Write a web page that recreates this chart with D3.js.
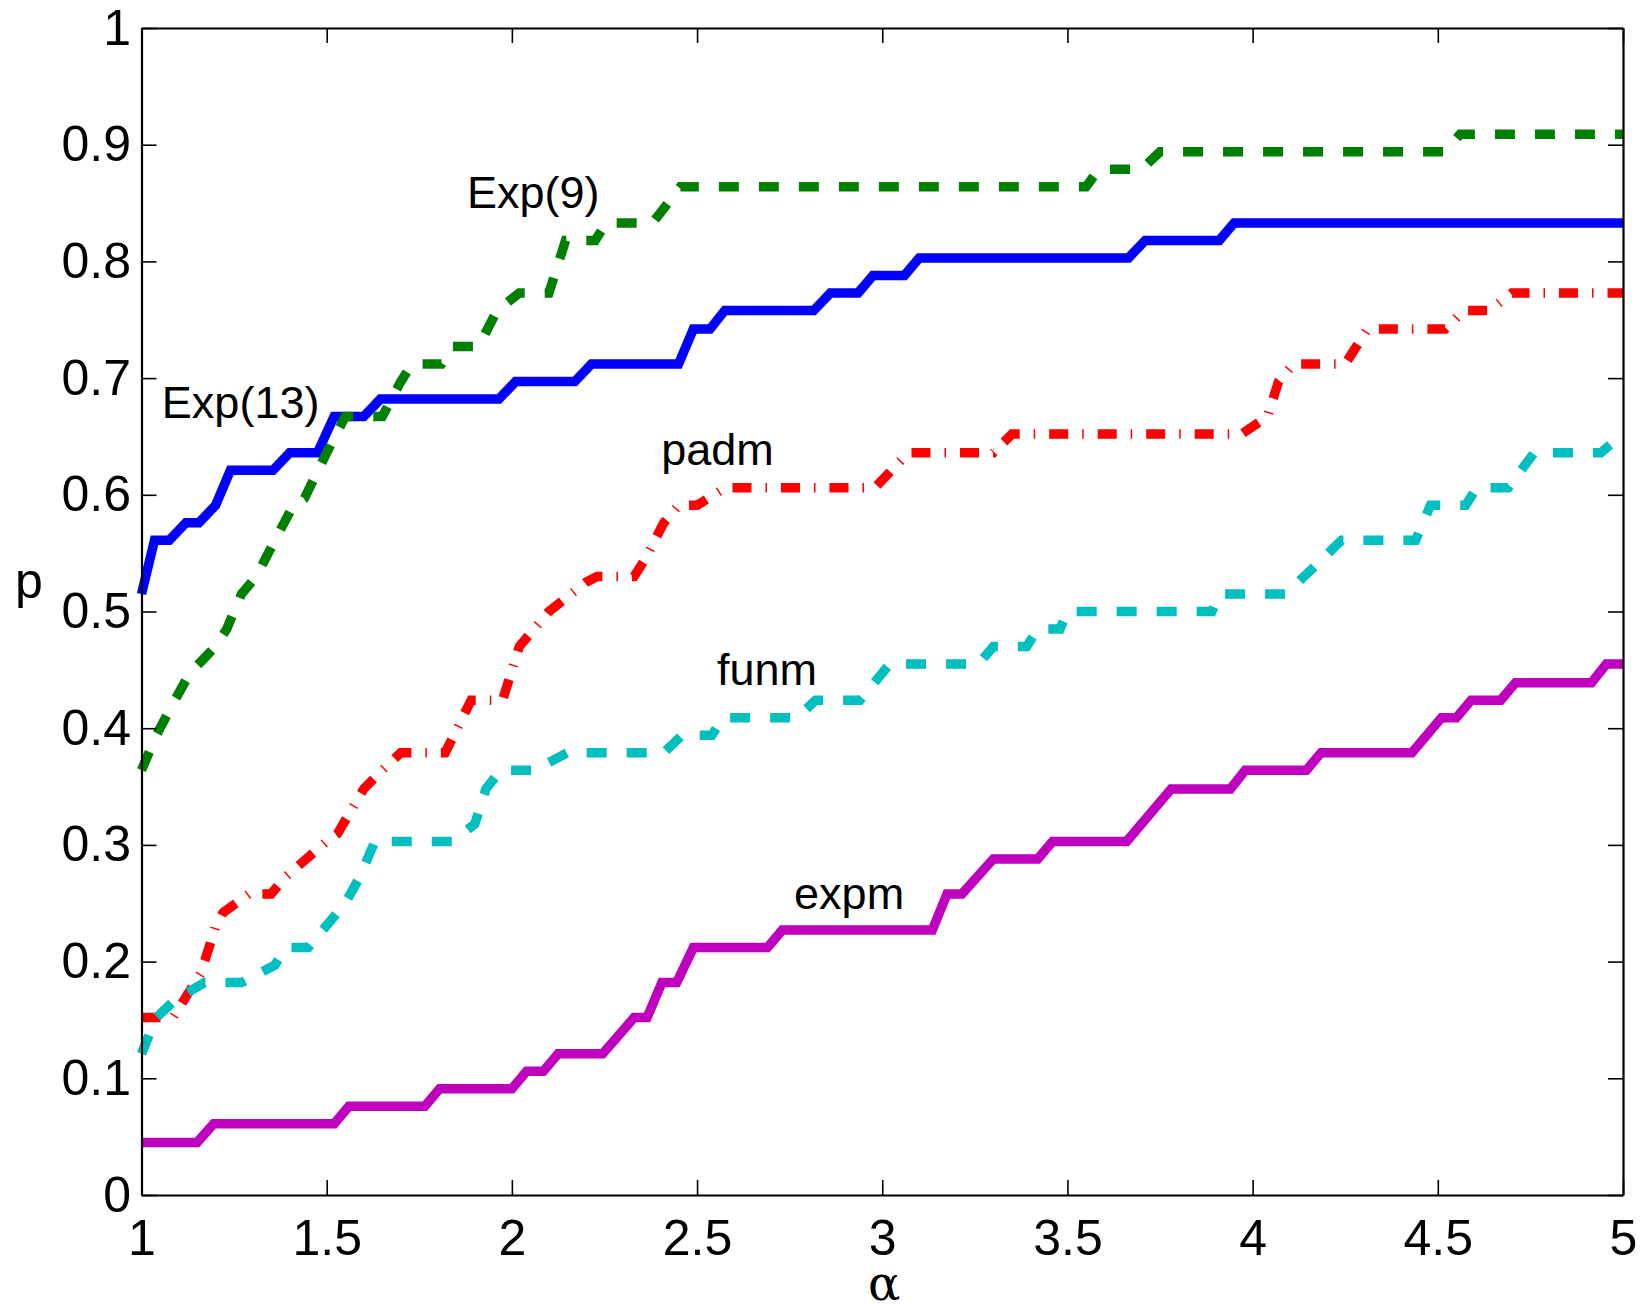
<!DOCTYPE html>
<html>
<head>
<meta charset="utf-8">
<script src="https://cdn.jsdelivr.net/npm/d3@7"></script>
<style>
  html, body { margin: 0; padding: 0; background: #ffffff; }
  svg { display: block; }
</style>
</head>
<body>
<svg id="chart" width="1644" height="1312"></svg>
<script>
// ---------------- data ----------------
const xTickValues = [1, 1.5, 2, 2.5, 3, 3.5, 4, 4.5, 5];
const xTickLabels = ["1", "1.5", "2", "2.5", "3", "3.5", "4", "4.5", "5"];
const yTickValues = [0, 0.1, 0.2, 0.3, 0.4, 0.5, 0.6, 0.7, 0.8, 0.9, 1];
const yTickLabels = ["0", "0.1", "0.2", "0.3", "0.4", "0.5", "0.6", "0.7", "0.8", "0.9", "1"];
const xAxisTitle = "α";
const yAxisTitle = "p";

const seriesNames = ["Exp(13)", "Exp(9)", "padm", "funm", "expm"];

// [alpha, p] vertices of each performance-profile polyline
const exp13 = [
  [1.00,0.515],[1.035,0.561],[1.075,0.561],[1.12,0.576],[1.155,0.576],[1.20,0.591],
  [1.24,0.621],[1.355,0.621],[1.40,0.636],[1.475,0.636],[1.52,0.667],[1.60,0.667],
  [1.645,0.682],[1.965,0.682],[2.01,0.697],[2.17,0.697],[2.215,0.712],[2.45,0.712],
  [2.49,0.742],[2.535,0.742],[2.575,0.758],[2.815,0.758],[2.86,0.773],[2.935,0.773],
  [2.975,0.788],[3.06,0.788],[3.10,0.803],[3.665,0.803],[3.71,0.818],[3.91,0.818],
  [3.95,0.833],[5.00,0.833]
];
const exp9 = [
  [1.00,0.364],[1.04,0.394],[1.09,0.424],[1.13,0.447],[1.20,0.470],[1.23,0.485],
  [1.27,0.515],[1.31,0.530],[1.36,0.561],[1.41,0.591],[1.44,0.597],[1.50,0.636],
  [1.55,0.667],[1.65,0.667],[1.70,0.697],[1.73,0.712],[1.81,0.712],[1.84,0.727],
  [1.91,0.727],[1.96,0.758],[2.02,0.773],[2.10,0.773],[2.145,0.818],[2.225,0.818],
  [2.255,0.833],[2.38,0.833],[2.455,0.864],[3.55,0.864],[3.585,0.879],[3.70,0.879],
  [3.75,0.894],[4.52,0.894],[4.56,0.909],[5.00,0.909]
];
const padm = [
  [1.00,0.152],[1.085,0.152],[1.16,0.190],[1.20,0.230],[1.22,0.242],[1.29,0.258],
  [1.35,0.258],[1.39,0.273],[1.50,0.303],[1.53,0.310],[1.60,0.348],[1.65,0.364],
  [1.70,0.379],[1.82,0.379],[1.89,0.424],[1.975,0.424],[2.02,0.470],[2.10,0.500],
  [2.20,0.525],[2.23,0.530],[2.33,0.530],[2.36,0.545],[2.41,0.576],[2.45,0.591],
  [2.50,0.591],[2.575,0.606],[2.98,0.606],[3.07,0.636],[3.30,0.636],[3.35,0.652],
  [3.97,0.652],[4.04,0.667],[4.07,0.697],[4.11,0.712],[4.25,0.712],[4.31,0.742],
  [4.52,0.742],[4.57,0.758],[4.64,0.758],[4.70,0.773],[5.00,0.773]
];
const funm = [
  [1.00,0.121],[1.04,0.152],[1.09,0.167],[1.17,0.182],[1.27,0.182],[1.36,0.197],
  [1.39,0.212],[1.45,0.212],[1.55,0.250],[1.59,0.273],[1.63,0.303],[1.84,0.303],
  [1.90,0.318],[1.93,0.348],[1.97,0.364],[2.06,0.364],[2.15,0.379],[2.41,0.379],
  [2.46,0.394],[2.54,0.394],[2.57,0.409],[2.77,0.409],[2.82,0.424],[2.94,0.424],
  [3.02,0.455],[3.26,0.455],[3.30,0.470],[3.39,0.470],[3.42,0.485],[3.48,0.485],
  [3.50,0.500],[3.89,0.500],[3.91,0.515],[4.09,0.515],[4.24,0.561],[4.44,0.561],
  [4.48,0.591],[4.575,0.591],[4.605,0.606],[4.69,0.606],[4.76,0.636],[4.94,0.636],
  [5.00,0.652]
];
const expm = [
  [1.00,0.045],[1.15,0.045],[1.195,0.061],[1.52,0.061],[1.56,0.076],[1.765,0.076],
  [1.805,0.091],[2.00,0.091],[2.04,0.106],[2.085,0.106],[2.125,0.121],[2.245,0.121],
  [2.33,0.152],[2.365,0.152],[2.405,0.182],[2.445,0.182],[2.49,0.212],[2.69,0.212],
  [2.73,0.227],[3.135,0.227],[3.175,0.258],[3.215,0.258],[3.30,0.288],[3.42,0.288],
  [3.46,0.303],[3.66,0.303],[3.78,0.348],[3.94,0.348],[3.98,0.364],[4.145,0.364],
  [4.185,0.379],[4.43,0.379],[4.51,0.409],[4.55,0.409],[4.59,0.424],[4.67,0.424],
  [4.71,0.439],[4.915,0.439],[4.955,0.455],[5.00,0.455]
];

// ---------------- layout & styles ----------------
const W = 1644, H = 1312;
const plotLeft = 141.5, plotRight = 1623, plotTop = 28, plotBottom = 1195;
const tickLen = 15;
const fontFamily = "'Liberation Sans', Arial, Helvetica, sans-serif";

const styles = {
  "Exp(13)": { color: "#0000ff", dash: null },
  "Exp(9)":  { color: "#008000", dash: "20,20" },
  "padm":    { color: "#ff0000", dash: "19,14,1.5,14" },
  "funm":    { color: "#00bfbf", dash: "20,20" },
  "expm":    { color: "#bf00bf", dash: null }
};
// label anchors in data coordinates (alpha, p) – left/baseline of the text
const labelAnchors = {
  "Exp(13)": [1.055, 0.666],
  "Exp(9)":  [1.879, 0.846],
  "padm":    [2.403, 0.6256],
  "funm":    [2.554, 0.437],
  "expm":    [2.762, 0.245]
};

const seriesData = { "Exp(13)": exp13, "Exp(9)": exp9, "padm": padm, "funm": funm, "expm": expm };

const svg = d3.select("#chart");
svg.append("rect").attr("width", W).attr("height", H).attr("fill", "#fff");

const x = d3.scaleLinear().domain([1, 5]).range([plotLeft, plotRight]);
const y = d3.scaleLinear().domain([0, 1]).range([plotBottom, plotTop]);

// ---------------- series ----------------
const line = d3.line().x(d => x(d[0])).y(d => y(d[1]));
const linesG = svg.append("g").attr("class", "series");
seriesNames.forEach(name => {
  const st = styles[name];
  const p = linesG.append("path")
    .datum(seriesData[name])
    .attr("d", line)
    .attr("fill", "none")
    .attr("stroke", st.color)
    .attr("stroke-width", 9.5)
    .attr("stroke-linejoin", "miter")
    .attr("stroke-miterlimit", 3)
    .attr("stroke-linecap", "butt");
  if (st.dash) p.attr("stroke-dasharray", st.dash);
});

// ---------------- axes (box with inward ticks) ----------------
function styleAxis(g) {
  g.select(".domain").attr("stroke", "#000").attr("stroke-width", 2.2);
  g.selectAll(".tick line").attr("stroke", "#000").attr("stroke-width", 1.6);
  g.selectAll(".tick text")
    .attr("fill", "#000")
    .style("font-family", fontFamily)
    .style("font-size", "50px");
}

const xAxisB = d3.axisBottom(x).tickValues(xTickValues)
  .tickFormat((d, i) => xTickLabels[i]).tickSizeInner(-tickLen).tickSizeOuter(0).tickPadding(24);
svg.append("g").attr("transform", `translate(0,${plotBottom})`).call(xAxisB).call(styleAxis)
  .call(g => g.selectAll(".tick text").attr("dy", "0.71em"));

const xAxisT = d3.axisTop(x).tickValues(xTickValues).tickFormat("")
  .tickSizeInner(-tickLen).tickSizeOuter(0);
svg.append("g").attr("transform", `translate(0,${plotTop})`).call(xAxisT).call(styleAxis);

const yAxisL = d3.axisLeft(y).tickValues(yTickValues)
  .tickFormat((d, i) => yTickLabels[i]).tickSizeInner(-tickLen).tickSizeOuter(0).tickPadding(10.5);
svg.append("g").attr("transform", `translate(${plotLeft},0)`).call(yAxisL).call(styleAxis);

const yAxisR = d3.axisRight(y).tickValues(yTickValues).tickFormat("")
  .tickSizeInner(-tickLen).tickSizeOuter(0);
svg.append("g").attr("transform", `translate(${plotRight},0)`).call(yAxisR).call(styleAxis);

// ---------------- axis titles ----------------
svg.append("text")
  .attr("x", (plotLeft + plotRight) / 2 + 2)
  .attr("y", 1300)
  .attr("text-anchor", "middle")
  .style("font-family", "'DejaVu Serif', 'Liberation Serif', serif")
  .style("font-size", "48px")
  .text(xAxisTitle);

svg.append("text")
  .attr("x", 29)
  .attr("y", 598)
  .attr("text-anchor", "middle")
  .style("font-family", fontFamily)
  .style("font-size", "50px")
  .text(yAxisTitle);

// ---------------- series labels ----------------
seriesNames.forEach(name => {
  const a = labelAnchors[name];
  svg.append("text")
    .attr("x", x(a[0]))
    .attr("y", y(a[1]))
    .style("font-family", fontFamily)
    .style("font-size", "45px")
    .attr("fill", "#000")
    .text(name);
});
</script>
</body>
</html>
